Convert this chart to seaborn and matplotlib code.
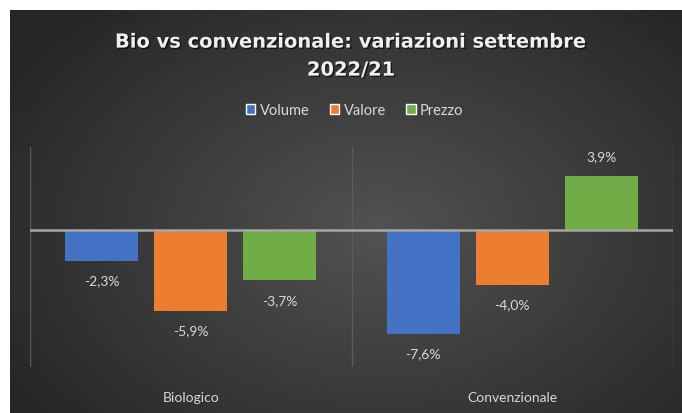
import numpy as np
import pandas as pd
import seaborn as sns
import matplotlib.pyplot as plt
from matplotlib.patches import Patch
import matplotlib.patheffects as pe

# data (% change Sept 2022 vs 2021)
categories = ['Biologico', 'Convenzionale']
series = ['Volume', 'Valore', 'Prezzo']
volume = [-2.3, -7.6]
valore = [-5.9, -4.0]
prezzo = [-3.7, 3.9]
colors = ['#4472C4', '#ED7D31', '#70AD47']

df = pd.DataFrame({
    'categoria': categories * 3,
    'serie': [s for s in series for _ in categories],
    'valore': volume + valore + prezzo,
})

sns.set_style('white')
plt.rcParams['font.family'] = ['Lato', 'DejaVu Sans']

fig = plt.figure(figsize=(6.82, 4.14), dpi=100)
fig.patch.set_facecolor('white')

# dark radial gradient background box
bg = fig.add_axes([10 / 682, 0, 672 / 682, 403 / 414])
yy, xx = np.mgrid[0:1:300j, 0:1:500j]
r = np.sqrt(((xx - 0.55) / 0.65) ** 2 + ((yy - 0.45) / 0.75) ** 2)
r = np.clip(r, 0, 1)
light, dark = np.array([0x52, 0x52, 0x52]) / 255, np.array([0x26, 0x26, 0x26]) / 255
img = light[None, None, :] * (1 - r[..., None]) + dark[None, None, :] * r[..., None]
bg.imshow(img, aspect='auto', extent=[0, 1, 0, 1], origin='lower')
bg.set_axis_off()

ax = fig.add_axes([30 / 682, 46 / 414, 643 / 682, 220 / 414])
ax.set_facecolor('none')
sns.barplot(data=df, x='categoria', y='valore', hue='serie', order=categories,
            hue_order=series, palette=colors, width=0.83, gap=0.18,
            saturation=1, legend=False, ax=ax, zorder=3,
            edgecolor='none', linewidth=0)

ax.set_xlim(-0.5, 1.5)
ax.set_ylim(-10, 6)
ax.axhline(0, color='#a6a6a6', lw=1.8, zorder=4)
for xv in [-0.5, 0.5, 1.5]:
    ax.axvline(xv, color='#5a5a5a', lw=1.0, zorder=1)

for container in ax.containers:
    for bar in container:
        h = bar.get_height()
        xc = bar.get_x() + bar.get_width() / 2
        off = 14 if h > 0 else -14
        ax.annotate(f'{h:.1f}%'.replace('.', ','), (xc, h), xytext=(0, off),
                    textcoords='offset points', ha='center', va='center',
                    color='#d9d9d9', fontsize=10)

for s in ax.spines.values():
    s.set_visible(False)
ax.set_xlabel('')
ax.set_ylabel('')
ax.set_yticks([])
ax.tick_params(axis='x', length=0, pad=17, colors='#d9d9d9', labelsize=10)

fig.text(0.515, 0.862, 'Bio vs convenzionale: variazioni settembre\n2022/21',
         ha='center', va='center', color='#f0f0f0', fontsize=14,
         fontweight='bold', family='DejaVu Sans', linespacing=1.6,
         path_effects=[pe.withSimplePatchShadow(offset=(1, -1), shadow_rgbFace='black', alpha=0.6)])

handles = [Patch(facecolor=c, label=s) for c, s in zip(colors, series)]
leg = fig.legend(handles=handles, loc='center', bbox_to_anchor=(0.52, 0.732), ncol=3,
                 frameon=False, fontsize=10.5, handlelength=0.65, handleheight=0.65,
                 handletextpad=0.3, columnspacing=1.4)
for t in leg.get_texts():
    t.set_color('#d9d9d9')

fig.savefig('out.png', dpi=100)
